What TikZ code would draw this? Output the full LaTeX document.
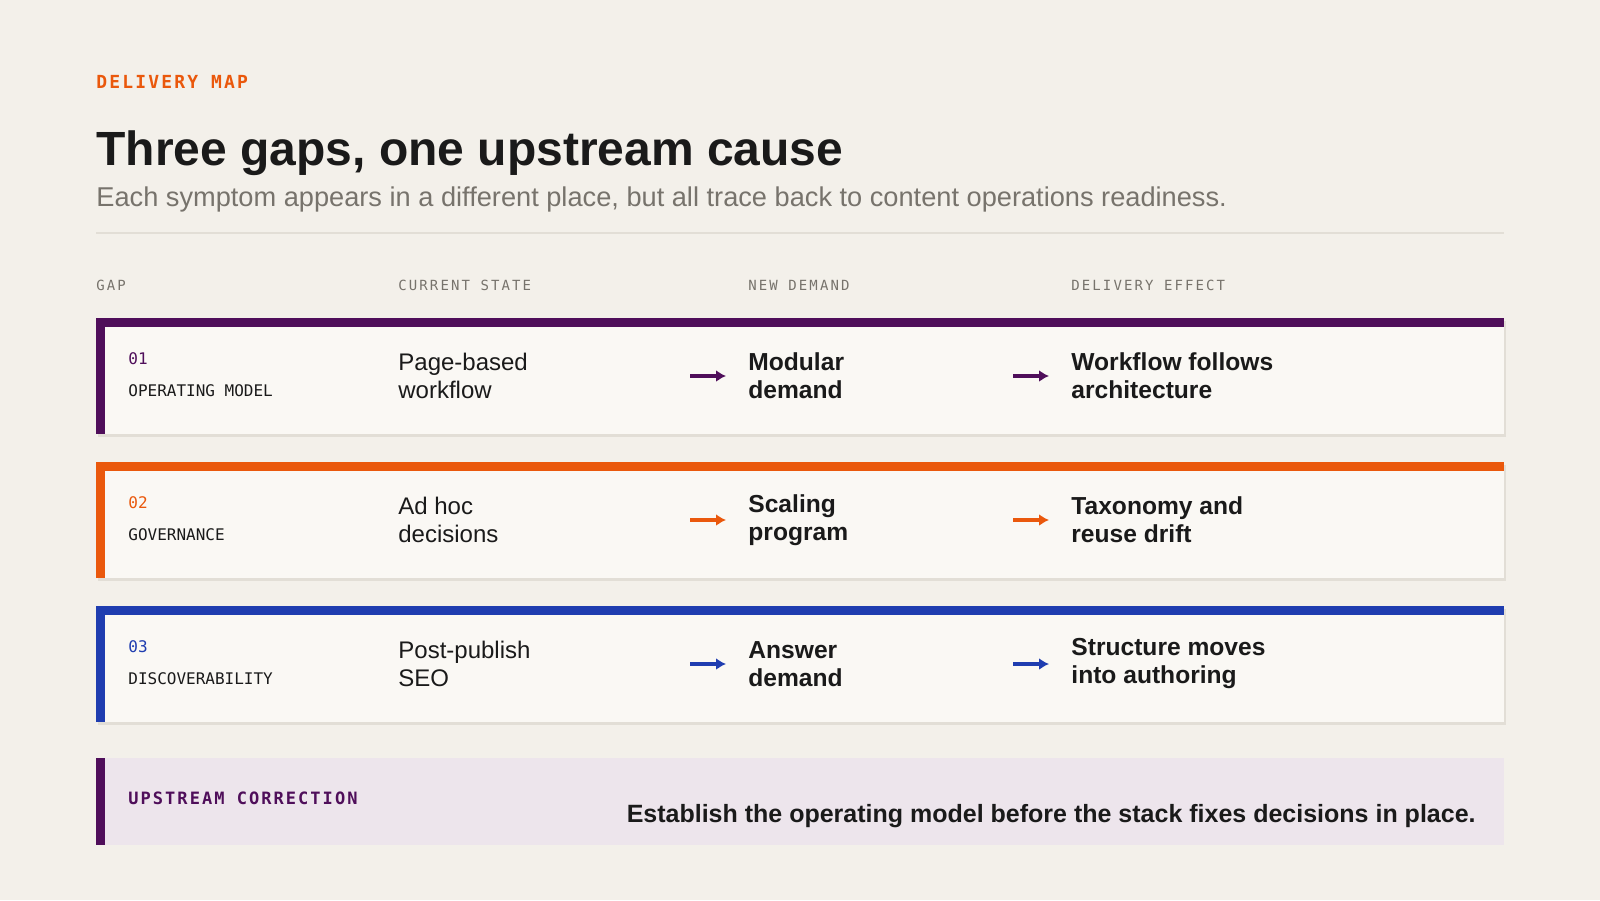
\documentclass[tikz,border=0pt]{standalone}
\usepackage{fontspec}
\setmainfont{Liberation Sans}
\setmonofont{DejaVu Sans Mono}
\usetikzlibrary{positioning}
\usetikzlibrary{arrows.meta}
\definecolor{bgpaper}{HTML}{F3F0EA}
\definecolor{cardfill}{HTML}{FAF8F4}
\definecolor{cardline}{HTML}{E2DED6}
\definecolor{plum}{HTML}{4F0E5A}
\definecolor{rust}{HTML}{EA580C}
\definecolor{cobalt}{HTML}{1F3DB0}
\definecolor{ink}{HTML}{1A1A1A}
\definecolor{muted}{HTML}{77736C}
\definecolor{lavender}{HTML}{EDE5EC}
\tikzset{
  hdr/.style={anchor=base west,inner sep=0pt,font=\ttfamily\fontsize{7}{8}\selectfont\addfontfeature{LetterSpace=15},text=muted},
  num/.style={anchor=base west,inner sep=0pt,font=\ttfamily\fontsize{8}{9}\selectfont},
  gap/.style={anchor=base west,inner sep=0pt,font=\ttfamily\fontsize{8}{9}\selectfont,text=ink},
  cur/.style={anchor=west,inner sep=0pt,align=left,font=\fontsize{12}{14}\selectfont,text=ink},
  bold/.style={anchor=west,inner sep=0pt,align=left,font=\bfseries\fontsize{12.3}{14}\selectfont,text=ink},
  flow/.style={line width=1.6pt,-{Latex[length=5pt,width=6pt]}},
}
\begin{document}
\begin{tikzpicture}[x=0.5pt,y=-0.5pt]
    \fill[bgpaper] (0,0) rectangle (1600,900);
    \useasboundingbox (0,0) rectangle (1600,900);
    % heading
    \node[anchor=base west,inner sep=0pt,text=rust,font=\ttfamily\bfseries\fontsize{9}{10}\selectfont\addfontfeature{LetterSpace=12}] (kicker) at (96,88) {DELIVERY MAP};
    \node[anchor=base west,inner sep=0pt,text=ink,font=\bfseries\fontsize{24}{28}\selectfont] (title) at (96,165) {Three gaps, one upstream cause};
    \node[anchor=base west,inner sep=0pt,text=muted,font=\fontsize{13.6}{15}\selectfont] (sub) at (96,206) {Each symptom appears in a different place, but all trace back to content operations readiness.};
    \draw[cardline,line width=1pt] (96,233) -- (1504,233);
    % column headers
    \node[hdr] (hgap) at (96,290) {GAP};
    \node[hdr] (hcur) at (398,290) {CURRENT STATE};
    \node[hdr] (hnew) at (748,290) {NEW DEMAND};
    \node[hdr] (heff) at (1071,290) {DELIVERY EFFECT};
    % rows
    \foreach \y/\c/\n/\g/\s/\d/\e [count=\i] in {
      318/plum/01/OPERATING MODEL/{Page-based\\workflow}/{Modular\\demand}/{Workflow follows\\architecture},
      462/rust/02/GOVERNANCE/{Ad hoc\\decisions}/{Scaling\\program}/{Taxonomy and\\reuse drift},
      606/cobalt/03/DISCOVERABILITY/{Post-publish\\SEO}/{Answer\\demand}/{Structure moves\\into authoring}} {
      \fill[cardline] (98,\y+3) rectangle (1506,\y+119);
      \fill[cardfill] (96,\y) rectangle (1504,\y+116);
      \fill[\c] (96,\y) rectangle (1504,\y+9);
      \fill[\c] (96,\y) rectangle (105,\y+116);
      \node[num,text=\c] (num\i) at (128,\y+46) {\n};
      \node[gap] (gap\i) at (128,\y+78) {\g};
      \node[cur] (cur\i) at (398,\y+58) {\s};
      \node[bold] (new\i) at (748,\y+58) {\d};
      \node[bold] (eff\i) at (1071,\y+58) {\e};
      \draw[flow,\c] ([xshift=-29pt]new\i.west) -- ([xshift=-11pt]new\i.west);
      \draw[flow,\c] ([xshift=-29pt]eff\i.west) -- ([xshift=-11pt]eff\i.west);
    }
    % upstream correction
    \fill[lavender] (96,758) rectangle (1504,845);
    \fill[plum] (96,758) rectangle (105,845);
    \node[anchor=base west,inner sep=0pt,text=plum,font=\ttfamily\bfseries\fontsize{8.5}{10}\selectfont\addfontfeature{LetterSpace=12}] (corr) at (128,804) {UPSTREAM CORRECTION};
    \node[anchor=base east,inner sep=0pt,text=ink,font=\bfseries\fontsize{12.5}{14}\selectfont] (fix) at (1476,822) {Establish the operating model before the stack fixes decisions in place.};
\end{tikzpicture}
\end{document}
